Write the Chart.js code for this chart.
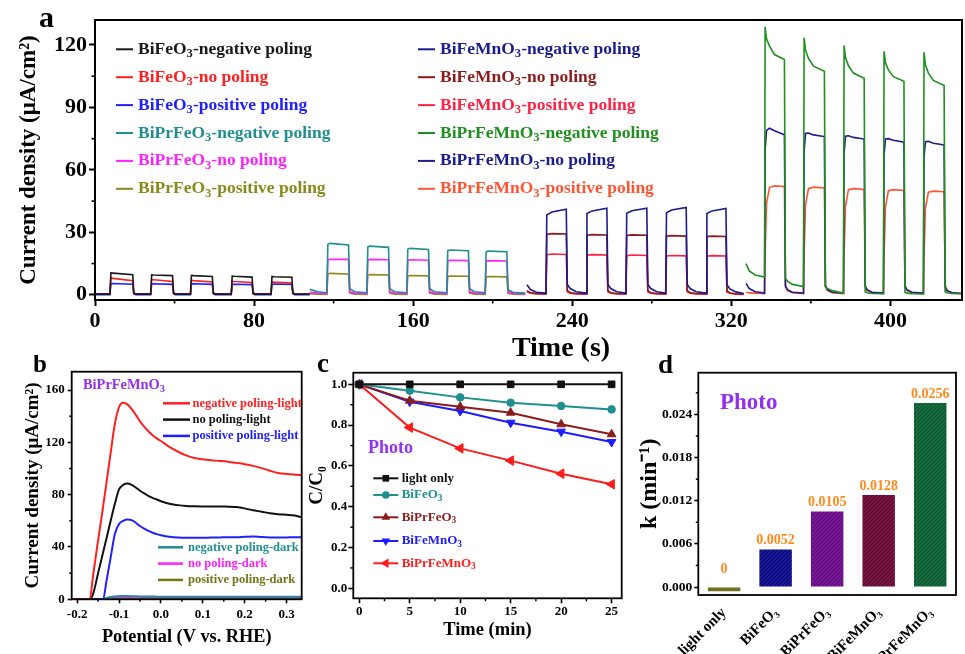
<!DOCTYPE html>
<html>
<head>
<meta charset="utf-8">
<title>Poling photocurrent figure</title>
<script src="https://cdn.jsdelivr.net/npm/chart.js@4.4.1/dist/chart.umd.min.js"></script>
<style>
  html, body { margin: 0; background: #fff; }
  #fig { position: relative; width: 965px; height: 654px; overflow: hidden; background: #fff; }
  #fig canvas { position: absolute; }
</style>
</head>
<body>
<div id="fig">
  <canvas id="chartA" width="965" height="372" style="left:0;top:0"></canvas>
  <canvas id="chartB" width="310" height="299" style="left:0;top:355px"></canvas>
  <canvas id="chartC" width="335" height="299" style="left:300px;top:355px"></canvas>
  <canvas id="chartD" width="330" height="299" style="left:635px;top:355px"></canvas>
</div>
<script>
// ---------- panel a: transient photocurrent (time in s, current in uA/cm2) ----------
const timeBFO = [0, 7.5, 8, 9, 19, 19.5, 20.5, 28, 28.5, 29.5, 39, 39.5, 40.5, 48, 48.5, 49.5, 59, 59.5, 60.5,
  68.5, 69, 70, 79, 79.5, 80.5, 88.5, 89, 90, 99, 99.5, 100.5, 108];
const bfoNeg = [0.3, 0.3, 10.5, 10.4, 9.6, 0.8, 0.3, 0.3, 9.6, 9.5, 9.2, 0.8, 0.3, 0.3, 9.3, 9.2, 8.8, 0.8, 0.3,
  0.3, 9.0, 8.9, 8.5, 0.8, 0.3, 0.3, 8.8, 8.7, 8.4, 0.8, 0.3, 0.3];
const bfoNo = [0.5, 0.5, 8.2, 7.9, 6.8, 1.0, 0.5, 0.5, 7.3, 7.2, 6.4, 1.0, 0.5, 0.5, 6.9, 6.8, 6.2, 1.0, 0.5,
  0.5, 6.5, 6.4, 5.9, 1.0, 0.5, 0.5, 6.2, 6.1, 5.7, 1.0, 0.5, 0.4];
const bfoPos = [0, 0, 5.3, 5.4, 5.1, 0.5, 0, 0, 5.2, 5.3, 5.0, 0.5, 0, 0, 5.2, 5.3, 5.0, 0.5, 0,
  0, 5.0, 5.1, 4.9, 0.5, 0, 0, 5.1, 5.2, 5.0, 0.5, 0, 0];

const timeBPFO = [108, 112, 116.6, 117.1, 118.1, 127.5, 128.1, 130.5, 136.7, 137.2, 138.2, 147.6, 148.2, 150.6,
  156.8, 157.3, 158.3, 167.7, 168.3, 170.7, 176.9, 177.4, 178.4, 187.8, 188.4, 190.8,
  196.2, 196.7, 197.7, 207.1, 207.7, 210.1, 216.4];
const bpfoNeg = [2.6, 1.5, 1.0, 24.3, 24.7, 23.9, 3.0, 1.5, 1.0, 23.0, 23.4, 22.8, 3.0, 1.5,
  1.0, 21.9, 22.3, 21.8, 3.0, 1.5, 1.0, 21.2, 21.5, 21.2, 3.0, 1.5, 1.0, 20.6, 21.0, 20.7, 2.5, 1.2, 0.8];
const bpfoNo = [1.2, 0.8, 0.5, 16.8, 17.1, 17.0, 1.5, 0.8, 0.5, 16.8, 17.0, 16.8, 1.5, 0.8,
  0.5, 16.5, 16.8, 16.6, 1.5, 0.8, 0.5, 16.3, 16.6, 16.4, 1.5, 0.8, 0.5, 16.2, 16.4, 16.2, 1.4, 0.7, 0.4];
const bpfoPos = [0.5, 0.3, 0.2, 9.8, 10.3, 10.0, 0.8, 0.3, 0.2, 9.4, 9.7, 9.5, 0.8, 0.3,
  0.2, 9.0, 9.3, 9.1, 0.8, 0.3, 0.2, 8.8, 9.0, 8.9, 0.8, 0.3, 0.2, 8.5, 8.8, 8.6, 0.7, 0.3, 0.2];

const timeBFMO = [217.2, 219, 222,
  226.8, 227.2, 229.8, 237, 237.5, 239, 242,
  247, 247.4, 250, 257.4, 257.9, 259.4, 262.4,
  267, 267.4, 270, 277.5, 278, 279.5, 282.5,
  287, 287.4, 290, 297.3, 297.8, 299.3, 302.3,
  307.3, 307.7, 310.3, 317.3, 317.8, 319.3, 322.3,
  326.2];
const bfmoNeg = [4.8, 2.5, 1.2,
  0.8, 38.4, 39.8, 41.1, 5.0, 3.0, 1.5,
  0.8, 39.0, 40.3, 41.6, 5.0, 3.0, 1.5,
  0.8, 39.2, 40.4, 41.6, 5.0, 3.0, 1.5,
  0.8, 39.4, 40.7, 41.9, 5.0, 3.0, 1.5,
  0.8, 39.0, 40.3, 41.5, 4.8, 2.8, 1.4,
  0.6];
const bfmoNo = [2.0, 1.0, 0.6,
  0.5, 29.0, 29.4, 29.2, 2.0, 1.0, 0.6,
  0.5, 28.6, 28.9, 28.7, 2.0, 1.0, 0.6,
  0.5, 28.5, 28.8, 28.6, 2.0, 1.0, 0.6,
  0.5, 28.2, 28.4, 28.2, 2.0, 1.0, 0.6,
  0.5, 28.0, 28.2, 28.0, 1.8, 0.9, 0.5,
  0.3];
const bfmoPos = [1.5, 0.8, 0.4,
  0.3, 19.2, 19.6, 19.4, 1.5, 0.8, 0.4,
  0.3, 19.0, 19.3, 19.1, 1.5, 0.8, 0.4,
  0.3, 18.8, 19.1, 18.9, 1.5, 0.8, 0.4,
  0.3, 18.6, 18.9, 18.7, 1.5, 0.8, 0.4,
  0.3, 18.5, 18.8, 18.6, 1.4, 0.7, 0.3,
  0.2];

const timeBPFMO = [327.4, 329, 332,
  336.7, 337, 337.7, 339.2, 341.7, 346.7, 347.2, 348.2, 350.7,
  356.3, 356.6, 357.3, 358.8, 361.3, 366.8, 367.3, 368.3, 370.8,
  376.4, 376.7, 377.4, 378.9, 381.4, 386.8, 387.3, 388.3, 390.8,
  396.5, 396.8, 397.5, 399, 401.5, 406.8, 407.3, 408.3, 410.8,
  416.6, 416.9, 417.6, 419.1, 421.6, 427, 427.5, 428.5, 431,
  436];
const bpfmoNeg = [15, 11.5, 9.5,
  8.5, 128.7, 123, 119.4, 115.4, 113, 8, 6.5, 5,
  4, 123.4, 117.5, 113.5, 109.8, 107.4, 4, 3, 2,
  0.8, 119.7, 114, 110, 106.5, 104, 1.5, 1, 0.6,
  0.5, 117, 111.5, 108, 104.8, 102.6, 1.2, 0.8, 0.5,
  0.4, 116.5, 110.5, 106.5, 103, 100.5, 1.5, 1.0, 0.6,
  0.4];
const bpfmoNo = [5.5, 3, 1.5,
  0.8, 70, 79, 80, 78.8, 76.9, 4, 2.5, 1.2,
  0.8, 69, 77.5, 77.7, 76.8, 76.0, 4, 2.5, 1.2,
  0.8, 68, 76.2, 76.4, 75.6, 74.8, 4, 2.5, 1.2,
  0.8, 67, 74.8, 75, 74.2, 73.3, 4, 2.5, 1.2,
  0.8, 66, 73.5, 73.7, 72.8, 72.0, 3.5, 2, 1,
  0.6];
const bpfmoPos = [1.2, 0.9, 0.8,
  0.6, 20, 44, 51.5, 52.3, 52.0, 5, 2, 1,
  0.6, 19, 43, 51, 51.7, 51.3, 5, 2, 1,
  0.6, 19, 42.5, 50.5, 51.0, 50.6, 5, 2, 1,
  0.6, 18.5, 42, 50, 50.5, 50.1, 5, 2, 1,
  0.6, 18, 41.5, 49.3, 49.8, 49.5, 5, 2, 1,
  0.6];
const ticksAX = [0, 80, 160, 240, 320, 400];
const ticksAY = [0, 30, 60, 90, 120];

// ---------- panel b: LSV of BiPrFeMnO3 (potential V vs RHE, current uA/cm2) ----------
const potB = [-0.213, -0.17, -0.162, -0.15, -0.138, -0.13, -0.12, -0.11, -0.1, -0.09, -0.08, -0.07, -0.06,
  -0.05, -0.04, -0.03, -0.02, -0.01, 0, 0.02, 0.04, 0.06, 0.08, 0.1, 0.12, 0.14, 0.16, 0.18, 0.2, 0.22,
  0.24, 0.26, 0.28, 0.3, 0.32, 0.336];
const negLight = [0, 0, 18, 45, 71, 89, 112, 134, 147, 150.3, 149, 145.5, 141, 136, 132, 128.5, 125.5, 123,
  121, 116.5, 113, 110, 108, 107, 106.3, 105.8, 105.2, 104.3, 103.3, 102, 100.3, 98.3, 96.6, 95.8, 95.3, 95];
const noLight = [0, 0, 4, 20, 36, 46.5, 60, 73, 84, 87.5, 88.5, 87.5, 85.5, 83, 81, 79, 77.5, 76.3,
  75, 73, 72, 71.3, 71.1, 71, 71, 71, 70.8, 70.5, 69.5, 68, 67, 65.8, 65, 64.6, 64, 62.7];
const posLight = [0, 0, 0, 0, 0, 14, 32, 50, 57.5, 60, 61, 60.5, 58.5, 56, 54, 52.3, 51, 49.8,
  49, 47.8, 47.2, 47, 47, 47, 47.2, 47.3, 47.5, 47.5, 47.8, 48, 47.6, 47.3, 47.2, 47.3, 47.5, 47.5];
const negDark = [0, 0, 0, 0, 0, 1, 1.8, 2.2, 2.5, 2.6, 2.5, 2.4, 2.3, 2.2, 2.2, 2.1, 2.1, 2.0,
  2.0, 2.0, 2.0, 2.0, 2.0, 2.0, 2.0, 2.0, 2.0, 2.0, 2.0, 2.0, 2.0, 2.0, 2.0, 2.0, 2.0, 2.0];
const noDark = [0, 0, 0, 0, 0, 0.8, 1.3, 1.6, 1.8, 1.8, 1.7, 1.7, 1.6, 1.6, 1.5, 1.5, 1.5, 1.5,
  1.5, 1.5, 1.5, 1.5, 1.5, 1.5, 1.5, 1.5, 1.5, 1.5, 1.5, 1.5, 1.5, 1.5, 1.5, 1.5, 1.5, 1.5];
const posDark = [0, 0, 0, 0, 0, 0.4, 0.7, 0.9, 1.0, 1.0, 1.0, 1.0, 1.0, 0.9, 0.9, 0.9, 0.9, 0.9,
  0.9, 0.9, 0.9, 0.9, 0.9, 0.9, 0.9, 0.9, 0.9, 0.9, 0.9, 0.9, 0.9, 0.9, 0.9, 0.9, 0.9, 0.9];
const ticksBX = [-0.2, -0.1, 0, 0.1, 0.2, 0.3];
const ticksBY = [0, 40, 80, 120, 160];

// ---------- panel c: degradation C/C0 vs time (min) ----------
const timeC = [0, 5, 10, 15, 20, 25];
const lightOnlyC = [1, 1, 1, 1, 1, 1];
const bfoC = [1, 0.969, 0.936, 0.91, 0.894, 0.877];
const bpfoC = [1, 0.92, 0.89, 0.861, 0.804, 0.755];
const bfmoC = [1, 0.915, 0.869, 0.812, 0.768, 0.717];
const bpfmoC = [1, 0.788, 0.686, 0.626, 0.562, 0.51];
const ticksCX = [0, 5, 10, 15, 20, 25];
const ticksCY = [0, 0.2, 0.4, 0.6, 0.8, 1.0];

// ---------- panel d: rate constants ----------
const kCats = ['light only', 'BiFeO₃', 'BiPrFeO₃', 'BiFeMnO₃', 'BiPrFeMnO₃'];
const kValues = [-0.0006, 0.0052, 0.0105, 0.0128, 0.0256];
const kTexts = ['0', '0.0052', '0.0105', '0.0128', '0.0256'];
const ticksDY = [0, 0.006, 0.012, 0.018, 0.024];

// ---------- helpers ----------
const SERIF = '"Liberation Serif", "Times New Roman", serif';
const PURPLE = '#9330f0';
Chart.defaults.font.family = SERIF;
Chart.defaults.font.weight = 'bold';
Chart.defaults.color = '#000';
Chart.defaults.animation = false;

const SUBS = { '₃': '3', '₀': '0' };

// draws text, rendering the ₃/₀ characters as lowered small digits
function drawRich(ctx, text, x, y, size, color, align) {
  const parts = [];
  for (const ch of text) {
    const sub = !!SUBS[ch];
    const last = parts[parts.length - 1];
    if (last && last.sub === sub) last.t += SUBS[ch] || ch;
    else parts.push({ t: SUBS[ch] || ch, sub });
  }
  const fMain = `bold ${size}px ${SERIF}`, fSub = `bold ${size * 0.72}px ${SERIF}`;
  ctx.save();
  ctx.textBaseline = 'middle';
  ctx.textAlign = 'left';
  ctx.fillStyle = color;
  let w = 0;
  parts.forEach(p => { ctx.font = p.sub ? fSub : fMain; p.w = ctx.measureText(p.t).width; w += p.w; });
  let cx = align === 'center' ? x - w / 2 : align === 'right' ? x - w : x;
  parts.forEach(p => {
    ctx.font = p.sub ? fSub : fMain;
    ctx.fillText(p.t, cx, p.sub ? y + size * 0.28 : y);
    cx += p.w;
  });
  ctx.restore();
}

function drawMarker(ctx, style, x, y, r, rot) {
  ctx.beginPath();
  if (style === 'rect') {
    const s = r * Math.SQRT1_2;
    ctx.rect(x - s, y - s, 2 * s, 2 * s);
  } else if (style === 'triangle') {
    let a = (rot || 0) * Math.PI / 180;
    for (let k = 0; k < 3; k++) {
      const px = x + Math.sin(a) * r, py = y - Math.cos(a) * r;
      if (k) ctx.lineTo(px, py); else ctx.moveTo(px, py);
      a += 2 * Math.PI / 3;
    }
    ctx.closePath();
  } else {
    ctx.arc(x, y, r, 0, Math.PI * 2);
  }
  ctx.fill();
}

const pts = (xs, ys) => xs.map((x, i) => ({ x, y: ys[i] }));

function lineSet(label, color, xs, ys, extra) {
  return Object.assign({
    label, data: pts(xs, ys), borderColor: color, backgroundColor: color,
    borderWidth: 1.6, pointRadius: 0, tension: 0, fill: false
  }, extra || {});
}

function linAxis(o) {
  return {
    type: 'linear', min: o.min, max: o.max,
    afterBuildTicks: s => { s.ticks = o.ticks.map(v => ({ value: v })); },
    afterFit: s => { if (o.width) s.width = o.width; if (o.height) s.height = o.height; },
    grid: { drawOnChartArea: false, drawTicks: true, tickLength: o.tickLen, tickWidth: o.lw, color: '#000' },
    border: { display: false },
    ticks: {
      font: { size: o.font, weight: 'bold' }, color: '#000', padding: o.pad,
      maxRotation: 0, autoSkip: false, callback: o.fmt
    },
    title: o.title
      ? { display: true, text: o.title, color: '#000', font: { size: o.titleSize, weight: 'bold' }, padding: o.titlePad }
      : { display: false }
  };
}

// box around the plot area + short minor ticks between the major ones
function framePlugin(o) {
  return {
    id: 'frame',
    afterDraw(chart) {
      const ctx = chart.ctx, a = chart.chartArea;
      ctx.save();
      ctx.strokeStyle = '#000';
      ctx.lineWidth = o.lw;
      ctx.strokeRect(a.left, a.top, a.right - a.left, a.bottom - a.top);
      [['x', o.minorX], ['y', o.minorY]].forEach(([id, len]) => {
        const s = chart.scales[id];
        if (!len || !s || s.type !== 'linear') return;
        const vals = s.ticks.map(t => t.value);
        const step = vals[1] - vals[0];
        ctx.lineWidth = o.lw * 0.8;
        for (let v = vals[0] - step / 2; v <= s.max; v += step) {
          if (v < s.min) continue;
          const p = s.getPixelForValue(v);
          ctx.beginPath();
          if (id === 'x') { ctx.moveTo(p, a.bottom); ctx.lineTo(p, a.bottom + len); }
          else { ctx.moveTo(a.left, p); ctx.lineTo(a.left - len, p); }
          ctx.stroke();
        }
      });
      ctx.restore();
    }
  };
}

// legend drawn from the datasets: short line (+ marker) and coloured label
function legendPlugin(groups) {
  return {
    id: 'richLegend',
    afterDraw(chart) {
      const ctx = chart.ctx;
      groups.forEach(g => g.indices.forEach((di, row) => {
        const ds = chart.data.datasets[di];
        const y = g.ys ? g.ys[row] : g.y + row * g.gap;
        ctx.save();
        ctx.strokeStyle = ds.borderColor;
        ctx.lineWidth = g.lw;
        ctx.beginPath(); ctx.moveTo(g.x, y); ctx.lineTo(g.x + g.len, y); ctx.stroke();
        if (g.markers) {
          ctx.fillStyle = ds.borderColor;
          drawMarker(ctx, ds.pointStyle, g.x + g.len / 2, y, ds.pointRadius, ds.pointRotation);
        }
        ctx.restore();
        drawRich(ctx, ds.label, g.x + g.len + g.textGap, y, g.size, ds.borderColor, 'left');
      }));
    }
  };
}

function textPlugin(items) {
  return {
    id: 'texts',
    afterDraw(chart) {
      items.forEach(it => drawRich(chart.ctx, it.text, it.x, it.y, it.size, it.color || '#000', it.align || 'left'));
    }
  };
}

const baseOpts = (padding) => ({
  responsive: false, animation: false, events: [],
  layout: { padding },
  plugins: { legend: { display: false }, tooltip: { enabled: false } }
});

// ---------- chart a ----------
new Chart(document.getElementById('chartA'), {
  type: 'line',
  data: {
    datasets: [
      lineSet('BiFeO₃-negative poling', '#1a1a1a', timeBFO, bfoNeg),
      lineSet('BiFeO₃-no poling', '#ff2020', timeBFO, bfoNo),
      lineSet('BiFeO₃-positive poling', '#2020ff', timeBFO, bfoPos),
      lineSet('BiPrFeO₃-negative poling', '#1f8f8f', timeBPFO, bpfoNeg),
      lineSet('BiPrFeO₃-no poling', '#ff22ff', timeBPFO, bpfoNo),
      lineSet('BiPrFeO₃-positive poling', '#8a8a1c', timeBPFO, bpfoPos),
      lineSet('BiFeMnO₃-negative poling', '#1c1c8c', timeBFMO, bfmoNeg),
      lineSet('BiFeMnO₃-no poling', '#8c1c1c', timeBFMO, bfmoNo),
      lineSet('BiFeMnO₃-positive poling', '#ff2244', timeBFMO, bfmoPos),
      lineSet('BiPrFeMnO₃-negative poling', '#1f8f1f', timeBPFMO, bpfmoNeg),
      lineSet('BiPrFeMnO₃-no poling', '#1c1c8c', timeBPFMO, bpfmoNo),
      lineSet('BiPrFeMnO₃-positive poling', '#ff5533', timeBPFMO, bpfmoPos)
    ]
  },
  options: Object.assign(baseOpts({ left: 0, right: 3, top: 20, bottom: 0 }), {
    scales: {
      x: linAxis({ min: 0, max: 436, ticks: ticksAX, height: 72, font: 22, tickLen: 6, lw: 2, pad: 2, fmt: v => String(v) }),
      y: linAxis({ min: -2.5, max: 132, ticks: ticksAY, width: 95, font: 22, tickLen: 6, lw: 2, pad: 2, fmt: v => String(v),
        title: 'Current density (μA/cm²)', titleSize: 23, titlePad: { top: 15, bottom: 0 } })
    }
  }),
  plugins: [
    framePlugin({ lw: 2, minorX: 3.5, minorY: 3.5 }),
    legendPlugin([
      { indices: [0, 1, 2, 3, 4, 5], x: 116, len: 17, textGap: 5, y: 49.3, gap: 27.9, size: 17.5, lw: 2 },
      { indices: [6, 7, 8, 9, 10, 11], x: 418, len: 17, textGap: 5, y: 49.3, gap: 27.9, size: 17.5, lw: 2 }
    ]),
    textPlugin([
      { text: 'a', x: 39, y: 19, size: 30 },
      { text: 'Time (s)', x: 561, y: 349, size: 28, align: 'center' }
    ])
  ]
});

// ---------- chart b ----------
const bLine = { borderWidth: 2, cubicInterpolationMode: 'monotone' };
new Chart(document.getElementById('chartB'), {
  type: 'line',
  data: {
    datasets: [
      lineSet('negative poling-light', '#ff2020', potB, negLight, bLine),
      lineSet('no poling-light', '#111111', potB, noLight, bLine),
      lineSet('positive poling-light', '#2020ff', potB, posLight, bLine),
      lineSet('negative poling-dark', '#1f8f8f', potB, negDark, bLine),
      lineSet('no poling-dark', '#ff22ff', potB, noDark, bLine),
      lineSet('positive poling-dark', '#75751a', potB, posDark, bLine)
    ]
  },
  options: Object.assign(baseOpts({ left: 0, right: 8.3, top: 16.7, bottom: 0 }), {
    scales: {
      x: linAxis({ min: -0.213, max: 0.336, ticks: ticksBX, height: 54.7, font: 13, tickLen: 4, lw: 1.6, pad: 4,
        fmt: v => v.toFixed(1), title: 'Potential (V vs. RHE)', titleSize: 18.3, titlePad: { top: 0, bottom: 6 } }),
      y: linAxis({ min: 0, max: 174, ticks: ticksBY, width: 71.7, font: 13, tickLen: 4, lw: 1.6, pad: 3,
        fmt: v => String(v), title: 'Current density (μA/cm²)', titleSize: 19, titlePad: { top: 21.5, bottom: 0 } })
    }
  }),
  plugins: [
    framePlugin({ lw: 1.8, minorX: 2.5, minorY: 2.5 }),
    legendPlugin([
      { indices: [0, 1, 2], x: 163, len: 27, textGap: 2.5, y: 48.3, gap: 16.3, size: 12.5, lw: 2.5 },
      { indices: [3, 4, 5], x: 158, len: 25, textGap: 5, y: 192.3, gap: 16.3, size: 12.5, lw: 2.5 }
    ]),
    textPlugin([
      { text: 'b', x: 33, y: 11, size: 25 },
      { text: 'BiPrFeMnO₃', x: 83, y: 30, size: 14.4, color: PURPLE }
    ])
  ]
});

// ---------- chart c ----------
const cLine = (style, r, rot) => ({ borderWidth: 2, pointStyle: style, pointRadius: r, pointRotation: rot || 0, pointBorderWidth: 1 });
new Chart(document.getElementById('chartC'), {
  type: 'line',
  data: {
    datasets: [
      lineSet('light only', '#111111', timeC, lightOnlyC, cLine('rect', 4.7)),
      lineSet('BiFeO₃', '#1f8f8f', timeC, bfoC, cLine('circle', 3.8)),
      lineSet('BiPrFeO₃', '#8c1c1c', timeC, bpfoC, cLine('triangle', 5)),
      lineSet('BiFeMnO₃', '#1c1cff', timeC, bfmoC, cLine('triangle', 5, 180)),
      lineSet('BiPrFeMnO₃', '#ff1c1c', timeC, bpfmoC, cLine('triangle', 5.5, -90))
    ]
  },
  options: Object.assign(baseOpts({ left: 0, right: 13.3, top: 17.7, bottom: 0 }), {
    scales: {
      x: linAxis({ min: -0.59, max: 26.0, ticks: ticksCX, height: 55.7, font: 13, tickLen: 5, lw: 1.6, pad: 1,
        fmt: v => String(v), title: 'Time (min)', titleSize: 18.5, titlePad: { top: 0, bottom: 13 } }),
      y: linAxis({ min: -0.049, max: 1.057, ticks: ticksCY, width: 53.3, font: 13, tickLen: 5, lw: 1.6, pad: 1,
        fmt: v => v.toFixed(1), title: 'C/C₀', titleSize: 19, titlePad: { top: 6, bottom: 0 } })
    }
  }),
  plugins: [
    framePlugin({ lw: 1.8, minorX: 3, minorY: 3 }),
    legendPlugin([
      { indices: [0, 1, 2, 3, 4], x: 73.3, len: 25, textGap: 3.4, ys: [123.3, 140, 162.3, 186, 208.3], size: 13, lw: 2, markers: true }
    ]),
    textPlugin([
      { text: 'c', x: 17, y: 10, size: 27 },
      { text: 'Photo', x: 68, y: 93, size: 18, color: PURPLE }
    ])
  ]
});

// ---------- chart d ----------
function hatch(color) {
  const c = document.createElement('canvas');
  c.width = c.height = 4;
  const g = c.getContext('2d');
  g.fillStyle = color;
  g.fillRect(0, 0, 4, 4);
  g.strokeStyle = 'rgba(255,255,255,0.13)';
  g.lineWidth = 1;
  g.beginPath(); g.moveTo(0, 4); g.lineTo(4, 0); g.stroke();
  return g.createPattern(c, 'repeat');
}
const kColors = ['#6b6b1e', '#0c0c88', '#6a0c8a', '#680a32', '#0c5f32'];

const barValues = {
  id: 'barValues',
  afterDatasetsDraw(chart) {
    const meta = chart.getDatasetMeta(0);
    meta.data.forEach((bar, i) => {
      const v = chart.data.datasets[0].data[i];
      const top = Math.min(bar.y, bar.base) - (v <= 0 ? 18 : 9);
      drawRich(chart.ctx, kTexts[i], bar.x, top, 14, '#ff8a1e', 'center');
    });
  }
};

new Chart(document.getElementById('chartD'), {
  type: 'bar',
  data: {
    labels: kCats,
    datasets: [{ label: 'k', data: kValues, backgroundColor: kColors.map(hatch), barPercentage: 0.63, categoryPercentage: 1 }]
  },
  options: Object.assign(baseOpts({ left: 0, right: 9, top: 17.7, bottom: 0 }), {
    scales: {
      x: {
        grid: { display: false }, border: { display: false },
        afterFit: s => { s.height = 59; },
        ticks: { font: { size: 15, weight: 'bold' }, color: '#000', minRotation: 45, maxRotation: 45, padding: 1, autoSkip: false }
      },
      y: linAxis({ min: -0.00111, max: 0.0298, ticks: ticksDY, width: 63.3, font: 13.5, tickLen: 4, lw: 1.6, pad: 2,
        fmt: v => v.toFixed(3), title: 'k (min⁻¹)', titleSize: 24, titlePad: { top: 0, bottom: 0 } })
    }
  }),
  plugins: [
    framePlugin({ lw: 1.8, minorY: 2.5 }),
    barValues,
    textPlugin([
      { text: 'd', x: 23, y: 11, size: 27 },
      { text: 'Photo', x: 85, y: 48, size: 23, color: PURPLE }
    ])
  ]
});
</script>
</body>
</html>
